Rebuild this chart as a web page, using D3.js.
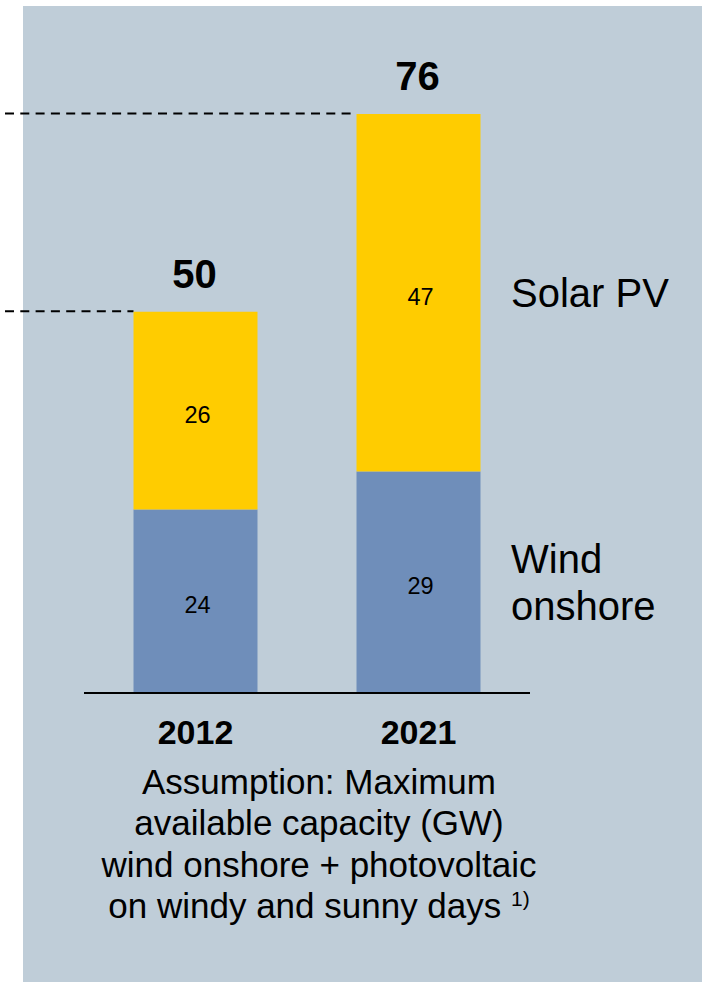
<!DOCTYPE html>
<html>
<head>
<meta charset="utf-8">
<script src="https://cdn.jsdelivr.net/npm/d3@7"></script>
<style>
  html, body { margin: 0; padding: 0; background: #ffffff; }
  svg { display: block; }
  text { font-family: "Liberation Sans", Arial, Helvetica, sans-serif; fill: #000; }
</style>
</head>
<body>
<script>
// ---- data ----
const years = ["2012", "2021"];
const windOnshore = [24, 29];
const solarPV = [26, 47];
const totals = [50, 76];
const seriesNames = ["Wind onshore", "Solar PV"];
const captionLines = [
  "Assumption: Maximum",
  "available capacity (GW)",
  "wind onshore + photovoltaic",
  "on windy and sunny days"
];
const footnoteMark = "1)";

// ---- layout ----
const W = 702, H = 982;
const svg = d3.select("body").append("svg").attr("width", W).attr("height", H);

svg.append("rect").attr("x", 23).attr("y", 6).attr("width", W - 23).attr("height", H - 6)
  .attr("fill", "#bfcdd8");

const x = d3.scaleBand().domain(years).range([84, 530])
  .paddingInner(0.444).paddingOuter(0.222);
const y = d3.scaleLinear().domain([0, 76]).range([692, 114]);

const colors = { wind: "#6f8eba", solar: "#ffcc00" };

const rows = years.map((yr, i) => ({ year: yr, wind: windOnshore[i], solar: solarPV[i], total: totals[i] }));
const stack = d3.stack().keys(["wind", "solar"])(rows);

// dashed reference lines to bar tops
svg.append("g").selectAll("line").data(rows).join("line")
  .attr("x1", 5)
  .attr("x2", d => x(d.year))
  .attr("y1", d => y(d.wind + d.solar) - 0.5)
  .attr("y2", d => y(d.wind + d.solar) - 0.5)
  .attr("stroke", "#000").attr("stroke-width", 2)
  .attr("stroke-dasharray", "9,6.3");

// bars
const layers = svg.append("g").selectAll("g").data(stack).join("g")
  .attr("fill", d => colors[d.key]);
layers.selectAll("rect").data(d => d).join("rect")
  .attr("x", d => x(d.data.year))
  .attr("width", x.bandwidth())
  .attr("y", d => y(d[1]))
  .attr("height", d => y(d[0]) - y(d[1]));

// segment value labels
layers.selectAll("text").data(d => d).join("text")
  .attr("x", d => x(d.data.year) + x.bandwidth() / 2 + 2)
  .attr("y", d => (y(d[0]) + y(d[1])) / 2 + 12)
  .attr("text-anchor", "middle")
  .style("font-size", "23.5px")
  .text(d => d[1] - d[0]);

// totals
svg.append("g").selectAll("text").data(rows).join("text")
  .attr("x", d => x(d.year) + x.bandwidth() / 2 - 1)
  .attr("y", d => y(d.total) - 24)
  .attr("text-anchor", "middle")
  .style("font-size", "40px").style("font-weight", "bold")
  .text(d => d.total);

// axis baseline + year labels
const xAxis = d3.axisBottom(x).tickSize(0).tickPadding(0);
const ax = svg.append("g").attr("transform", "translate(0,693)").call(xAxis);
ax.select(".domain").attr("stroke", "#000").attr("stroke-width", 2.2)
  .attr("d", "M84,0H530");
ax.selectAll(".tick text")
  .attr("y", 51).attr("dy", null)
  .style("font-family", "\"Liberation Sans\", Arial, sans-serif")
  .style("font-size", "34px").style("font-weight", "bold").attr("fill", "#000");

// series labels
svg.append("text").attr("x", 511).attr("y", 307).style("font-size", "40px").text(seriesNames[1]);
const wl = svg.append("text").attr("x", 511).attr("y", 573).style("font-size", "40px");
wl.append("tspan").attr("x", 511).text(seriesNames[0].split(" ")[0]);
wl.append("tspan").attr("x", 511).attr("y", 620).text(seriesNames[0].split(" ")[1]);

// caption
const baselines = [793.5, 835, 876.7, 918.3];
captionLines.forEach((line, i) => {
  const t = svg.append("text").attr("x", 319).attr("y", baselines[i])
    .attr("text-anchor", "middle").style("font-size", "35px");
  t.append("tspan").text(line);
  if (i === captionLines.length - 1) {
    t.append("tspan").text("\u00a0").style("font-size", "35px");
    t.append("tspan").attr("dy", -12).style("font-size", "21px").text(footnoteMark);
  }
});
</script>
</body>
</html>
